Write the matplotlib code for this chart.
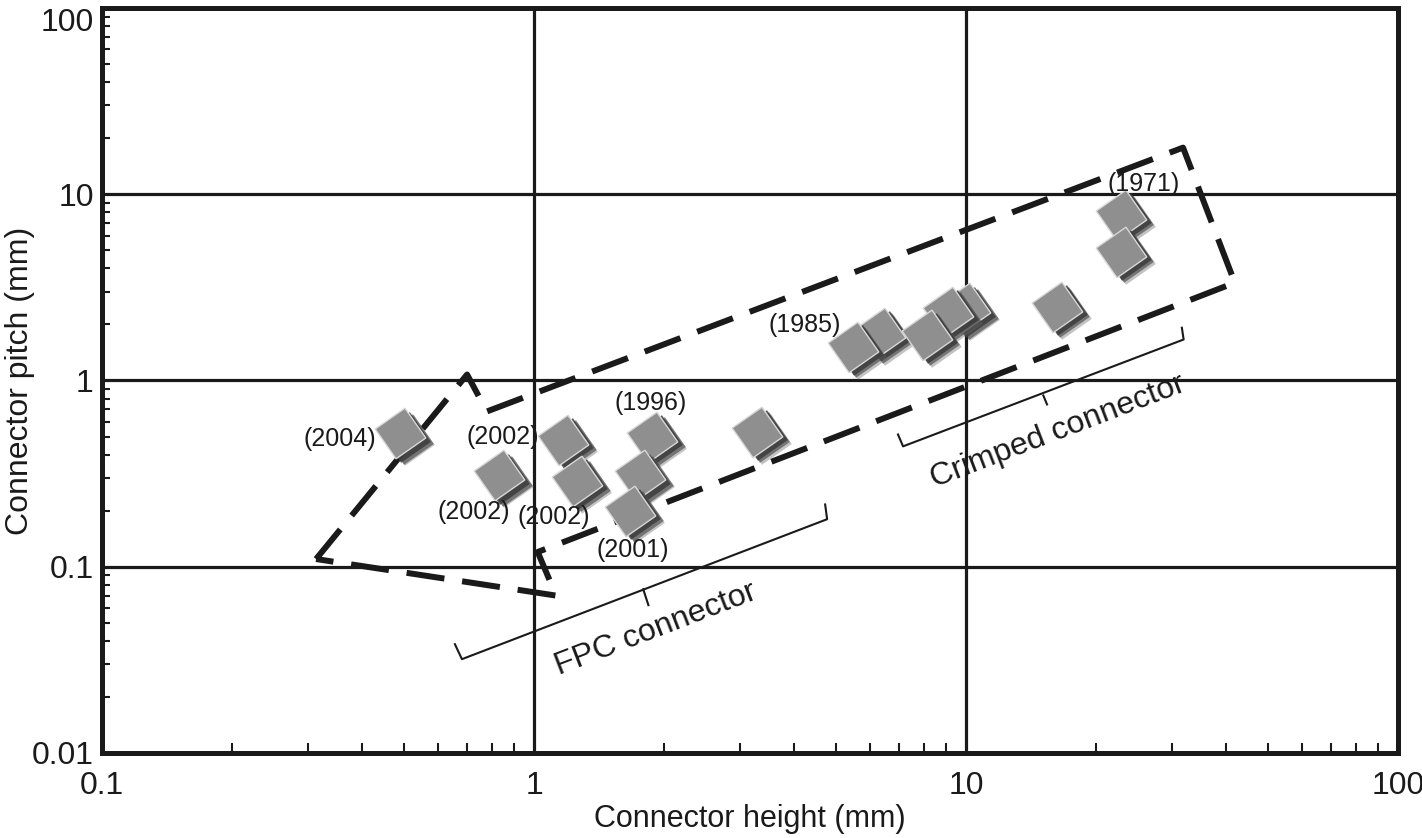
import numpy as np
import matplotlib
matplotlib.use("Agg")
import matplotlib.pyplot as plt
import matplotlib.transforms as mtransforms
from matplotlib import font_manager
from matplotlib.ticker import LogLocator, FixedLocator, FixedFormatter, NullFormatter

# ── Data ─────────────────────────────────────────────────────────────────────
heights = [0.49, 1.17, 0.83, 1.26, 1.88, 1.76, 1.67, 3.28,
           5.47, 6.32, 8.12, 9.09, 9.95, 16.2, 22.8, 22.8]
pitches = [0.52, 0.48, 0.31, 0.29, 0.50, 0.31, 0.20, 0.53,
           1.52, 1.81, 1.76, 2.34, 2.45, 2.49, 7.76, 4.92]

years   = ["(2004)", "(2002)", "(2002)", "(2002)", "(1996)", "(2001)", "(1985)", "(1971)"]
year_x  = [0.356, 0.848, 0.727, 1.112, 1.857, 1.695, 4.24, 25.8]
year_y  = [0.483, 0.495, 0.196, 0.184, 0.753, 0.1225, 1.996, 11.4]

# dashed arrow outline (data coords)
arrow_x = [0.313, 0.700, 0.778, 31.8, 41.9, 1.02, 1.125, 0.313]
arrow_y = [0.110, 1.077, 0.682, 17.8, 3.35, 0.120, 0.070, 0.110]

# brackets: left cap, line, right cap; middle tick
fpc_x = [0.656, 0.681, 4.77, 4.72]
fpc_y = [0.0384, 0.0319, 0.180, 0.216]
fpc_tick_x = [1.79, 1.84]
fpc_tick_y = [0.0757, 0.0622]
crimp_x = [6.96, 7.15, 31.9, 31.6]
crimp_y = [0.513, 0.443, 1.66, 1.92]
crimp_tick_x = [15.1, 15.4]
crimp_tick_y = [0.831, 0.744]

xticks = [0.1, 1, 10, 100]
xtick_labels = ["0.1", "1", "10", "100"]
yticks = [0.01, 0.1, 1, 10, 100]
ytick_labels = ["0.01", "0.1", "1", "10", "100"]

# ── Fonts ────────────────────────────────────────────────────────────────────
names = {f.name for f in font_manager.fontManager.ttflist}
NARROW = "Liberation Sans Narrow" if "Liberation Sans Narrow" in names else "Liberation Sans"
plt.rcParams["font.family"] = ["Liberation Sans", "DejaVu Sans"]

INK = "#1a1a1a"

fig = plt.figure(figsize=(14.22, 8.38), dpi=100)
ax = fig.add_axes([102 / 1422, 1 - 753 / 838, 1296 / 1422, 745 / 838])
ax.set_xscale("log")
ax.set_yscale("log")
ax.set_xlim(0.1, 100)
ax.set_ylim(0.01, 100)

# decade grid
for v in xticks[1:-1]:
    ax.axvline(v, color=INK, lw=2.3, zorder=1)
for v in yticks[1:-1]:
    ax.axhline(v, color=INK, lw=2.3, zorder=1)

for s in ax.spines.values():
    s.set_linewidth(3.6)
    s.set_color(INK)

ax.xaxis.set_major_locator(FixedLocator(xticks))
ax.xaxis.set_major_formatter(FixedFormatter(xtick_labels))
ax.yaxis.set_major_locator(FixedLocator(yticks))
ax.yaxis.set_major_formatter(FixedFormatter(ytick_labels))
ax.xaxis.set_minor_locator(LogLocator(base=10, subs=np.arange(2, 10)))
ax.yaxis.set_minor_locator(LogLocator(base=10, subs=np.arange(2, 10)))
ax.xaxis.set_minor_formatter(NullFormatter())
ax.yaxis.set_minor_formatter(NullFormatter())
ax.tick_params(which="major", length=0, labelsize=23, colors=INK)
ax.tick_params(axis="x", which="major", pad=13)
ax.tick_params(axis="y", which="major", pad=6)
ax.tick_params(which="minor", direction="in", width=1.5, color=INK)
ax.tick_params(axis="x", which="minor", length=7)
ax.tick_params(axis="y", which="minor", length=6)
for lab in ax.get_xticklabels() + ax.get_yticklabels():
    lab.set_family(NARROW)
ax.get_yticklabels()[-1].set_verticalalignment("top")

ax.set_xlabel("Connector height (mm)", fontsize=22, labelpad=2, color=INK)
ax.set_ylabel("Connector pitch (mm)", fontsize=23, color=INK)
ax.yaxis.set_label_coords(-0.052, 0.5)

# dashed arrow outline
lw_d = 4.3
ax.plot(arrow_x, arrow_y, color=INK, lw=lw_d, linestyle=(0, (6.4, 3.0)),
        solid_capstyle="butt", dash_capstyle="butt", zorder=3)

# brackets
ax.plot(fpc_x, fpc_y, color=INK, lw=1.5, zorder=3)
ax.plot(fpc_tick_x, fpc_tick_y, color=INK, lw=1.5, zorder=3)
ax.plot(crimp_x, crimp_y, color=INK, lw=1.5, zorder=3)
ax.plot(crimp_tick_x, crimp_tick_y, color=INK, lw=1.5, zorder=3)
ax.text(1.91, 0.0462, "FPC connector", fontsize=23, rotation=21,
        ha="center", va="center", color=INK, rotation_mode="anchor", zorder=4)
ax.text(16.3, 0.533, "Crimped connector", fontsize=23, rotation=21,
        ha="center", va="center", color=INK, rotation_mode="anchor", zorder=4)

# markers with drop shadow, upper ones first so lower ones sit in front
mk = (4, 0, -10)
MS = 37
order = np.argsort(pitches)[::-1]
z = 5
for i in order:
    hx, py = heights[i], pitches[i]
    for dx, dy, c, a in [(9, -7, "#6a6a6a", 0.4), (7.5, -5.5, "#4a4a4a", 0.65),
                         (5, -3.5, "#3c3c3c", 0.85)]:
        tr = mtransforms.offset_copy(ax.transData, fig=fig, x=dx, y=dy, units="dots")
        ax.plot([hx], [py], marker=mk, ms=MS, color=c, alpha=a, mew=0,
                linestyle="none", transform=tr, zorder=z)
    ax.plot([hx], [py], marker=mk, ms=MS, mfc="#8f8f8f", mec="#d8d8d8", mew=1.0,
            linestyle="none", zorder=z + 0.5)
    z += 1

for t, tx, ty in zip(years, year_x, year_y):
    ax.text(tx, ty, t, fontsize=18, ha="center", va="center", color=INK, zorder=40)

fig.savefig("out.png", dpi=100, facecolor="white")
